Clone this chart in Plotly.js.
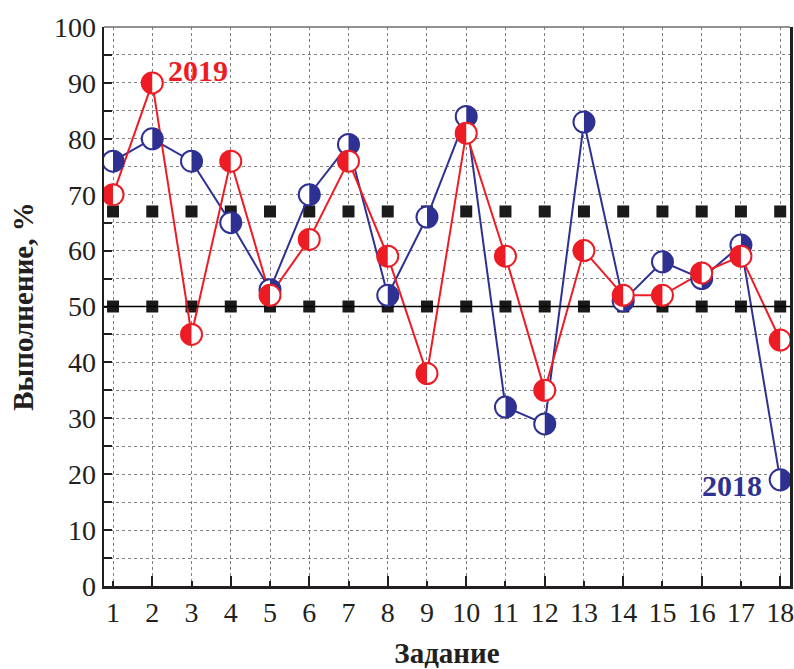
<!DOCTYPE html>
<html>
<head>
<meta charset="utf-8">
<script src="https://cdn.plot.ly/plotly-3.0.1.min.js"></script>
<style>html,body{margin:0;padding:0;background:#fff;}</style>
</head>
<body>
<div id="chart" style="width:794px;height:669px;"></div>
<script>
const tasks = [1,2,3,4,5,6,7,8,9,10,11,12,13,14,15,16,17,18];
const evenTicks = [2,4,6,8,10,12,14,16,18];
const res2018 = [76,80,76,65,53,70,79,52,66,84,32,29,83,51,58,55,61,19];
const res2019 = [70,90,45,76,52,62,76,59,38,81,59,35,60,52,52,56,59,44];
const level67 = [67,67,67,67,67,67,67,67,67,67,67,67,67,67,67,67,67,67];
const level50 = [50,50,50,50,50,50,50,50,50,50,50,50,50,50,50,50,50,50];
const seriesNames = ['2018','2019'];

const BLUE = '#2E3192';
const RED = '#ED1C24';
const INK = '#231F20';
const FONT = 'Liberation Serif';

const R = 10.5;
const K = 0.5523 * R;
const leftHalf = `M0,${R} C${-K},${R} ${-R},${K} ${-R},0 C${-R},${-K} ${-K},${-R} 0,${-R} Z`;
const rightHalf = `M0,${R} C${K},${R} ${R},${K} ${R},0 C${R},${-K} ${K},${-R} 0,${-R} Z`;

function markerShapes(xs, ys, color, half) {
  const out = [];
  for (let i = 0; i < xs.length; i++) {
    const base = {xref:'x', yref:'y', xsizemode:'pixel', ysizemode:'pixel',
                  xanchor: xs[i], yanchor: ys[i], layer:'above'};
    out.push(Object.assign({}, base, {type:'circle', x0:-R, x1:R, y0:-R, y1:R,
      fillcolor:'#ffffff', line:{color:color, width:2}}));
    out.push(Object.assign({}, base, {type:'path', path: half,
      fillcolor:color, line:{width:0}}));
  }
  return out;
}

const shapes = [
  {type:'line', xref:'paper', yref:'y', x0:0, x1:1, y0:level50[0], y1:level50[0],
   line:{color:'#000', width:1.5}, layer:'above'},
  {type:'line', xref:'paper', yref:'paper', x0:0, x1:1, y0:1, y1:1,
   line:{color:'#6d6d6d', width:1.5}, layer:'above'}
].concat(markerShapes(tasks, res2018, BLUE, rightHalf))
 .concat(markerShapes(tasks, res2019, RED, leftHalf));

const traces = [
  {x: tasks, y: level67, mode:'markers', type:'scatter',
   marker:{symbol:'square', size:12, color:'#1a1a1a'}, showlegend:false, hoverinfo:'skip'},
  {x: tasks, y: level50, mode:'markers', type:'scatter',
   marker:{symbol:'square', size:12, color:'#1a1a1a'}, showlegend:false, hoverinfo:'skip'},
  {x: tasks, y: res2018, name: seriesNames[0], mode:'lines', type:'scatter',
   line:{color:BLUE, width:2}, showlegend:false},
  {x: tasks, y: res2019, name: seriesNames[1], mode:'lines', type:'scatter',
   line:{color:RED, width:2}, showlegend:false},
  {x: evenTicks, y: evenTicks.map(() => null), xaxis:'x2', yaxis:'y', mode:'markers',
   type:'scatter', showlegend:false, hoverinfo:'skip'}
];

const layout = {
  width: 794, height: 669,
  margin: {l:104, r:4, t:27, b:83},
  paper_bgcolor:'#fff', plot_bgcolor:'#fff',
  font: {family: FONT, color: INK, size: 28},
  showlegend: false,
  xaxis: {
    range: [0.77, 18.25], tickmode:'array', tickvals: tasks, ticktext: tasks.map(String),
    ticks:'inside', ticklen:5, tickwidth:2, tickcolor:INK, ticklabeloverflow:'allow',
    showline:true, linewidth:2.5, linecolor:INK, mirror:false,
    showgrid:true, gridcolor:'#808080', gridwidth:1, griddash:'dot',
    zeroline:false, tickfont:{family:FONT, size:28, color:INK},
    title:{text:'<b>Задание</b>', font:{family:FONT, size:29, color:INK}, standoff:16}
  },
  xaxis2: {
    overlaying:'x', anchor:'y', side:'bottom', range:[0.77, 18.25],
    tickmode:'array', tickvals: evenTicks, ticks:'inside', ticklen:10, tickwidth:2,
    tickcolor:INK, showticklabels:false, showgrid:false, showline:false, zeroline:false
  },
  yaxis: {
    range:[0,100], dtick:10, tick0:0,
    ticks:'inside', ticklen:8, tickwidth:2, tickcolor:INK, ticklabeloverflow:'allow',
    showline:true, linewidth:2.5, linecolor:INK, mirror:true,
    showgrid:true, gridcolor:'#808080', gridwidth:1, griddash:'dot',
    minor:{dtick:5, ticks:'inside', ticklen:8, tickwidth:2, tickcolor:INK,
           showgrid:true, gridcolor:'#808080', gridwidth:1, griddash:'dot'},
    zeroline:false, tickfont:{family:FONT, size:28, color:INK},
    title:{text:'<b>Выполнение, %</b>', font:{family:FONT, size:29, color:INK}, standoff:12}
  },
  shapes: shapes,
  annotations: [
    {x:2.35, y:92.2, xref:'x', yref:'y', text:'<b>2019</b>', showarrow:false,
     xanchor:'left', yanchor:'middle', font:{family:FONT, size:30, color:RED}},
    {x:17.59, y:18, xref:'x', yref:'y', text:'<b>2018</b>', showarrow:false,
     xanchor:'right', yanchor:'middle', font:{family:FONT, size:30, color:BLUE}}
  ]
};

Plotly.newPlot('chart', traces, layout, {staticPlot:true, displayModeBar:false});
</script>
</body>
</html>
